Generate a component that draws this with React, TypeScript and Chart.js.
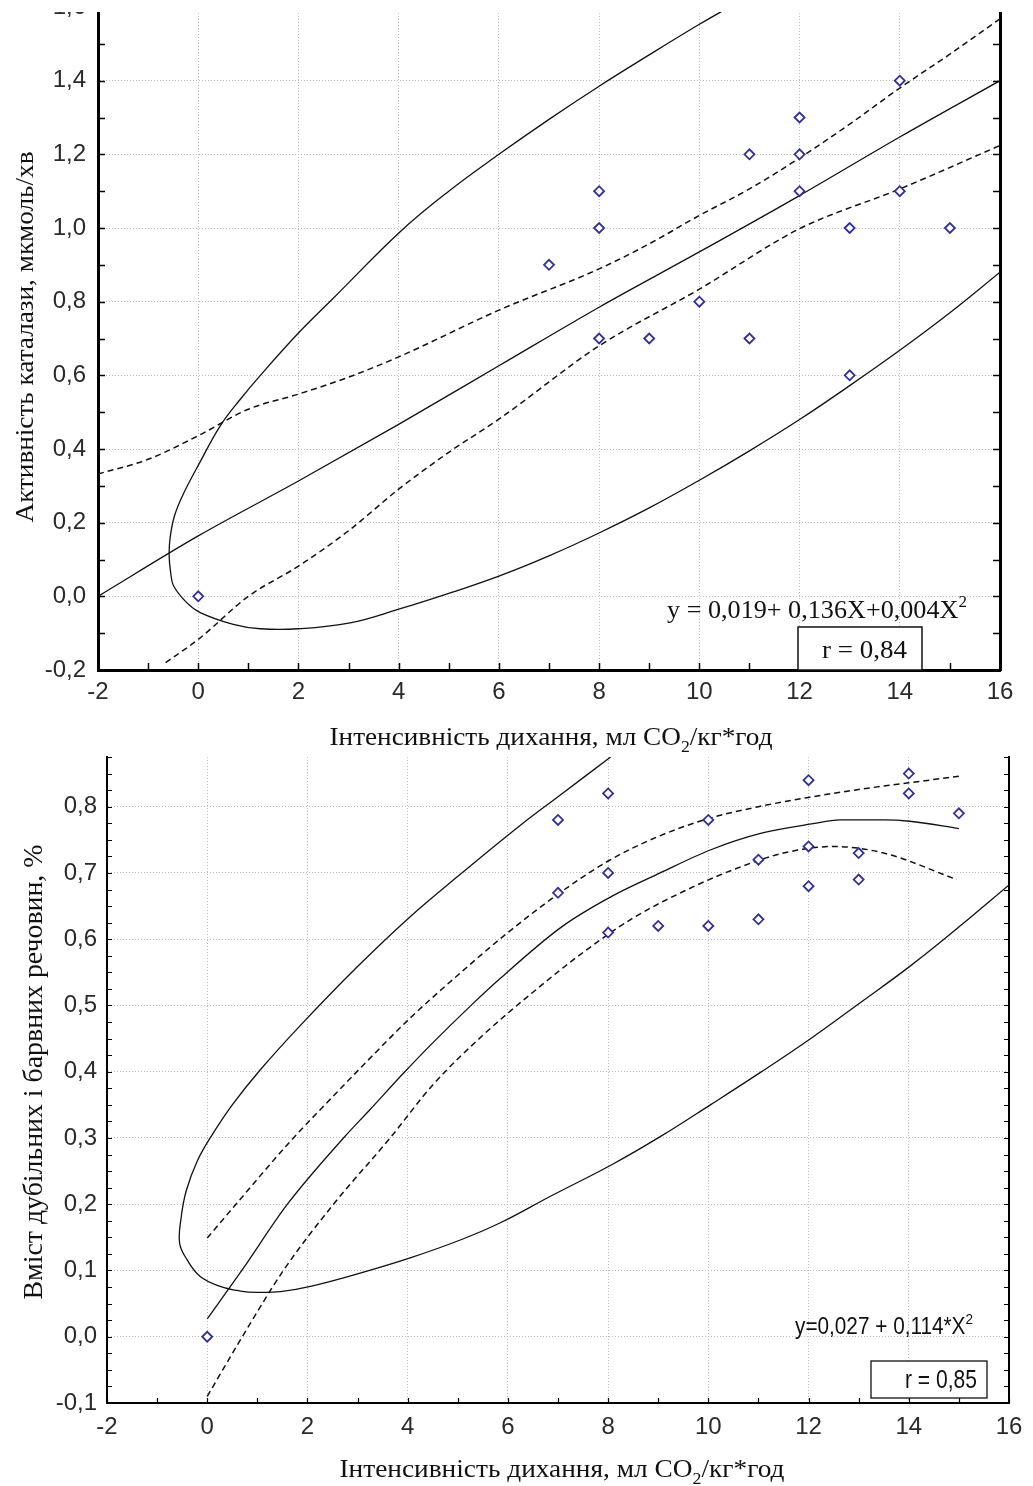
import React, { useEffect, useRef } from "react";
import { Chart, registerables } from "chart.js";

Chart.register(...registerables);

// ---------------- Chart 1: catalase activity ----------------
const c1PointsX = [0, 7, 8, 8, 8, 9, 10, 11, 11, 12, 12, 12, 13, 13, 14, 14, 15];
const c1PointsY = [0.0, 0.9, 1.1, 1.0, 0.7, 0.7, 0.8, 1.2, 0.7, 1.3, 1.2, 1.1, 1.0, 0.6, 1.4, 1.1, 1.0];
const c1FitX = [-2, 0, 2, 4, 6, 8, 10, 12, 14, 16];
const c1FitY = [0.0, 0.164, 0.313, 0.467, 0.626, 0.785, 0.935, 1.088, 1.247, 1.4];
const c1UpperX = [-2, -1, 0, 1, 2, 3, 4, 6, 8, 9, 10, 11, 12, 13, 14, 15, 16];
const c1UpperY = [0.332, 0.372, 0.436, 0.508, 0.549, 0.595, 0.65, 0.777, 0.889, 0.957, 1.034, 1.106, 1.19, 1.282, 1.38, 1.472, 1.568];
const c1LowerX = [-0.65, 0, 1, 2, 3, 4, 5, 6, 8, 10, 12, 14, 16];
const c1LowerY = [-0.18, -0.117, 0.0, 0.082, 0.178, 0.291, 0.391, 0.481, 0.68, 0.834, 0.998, 1.106, 1.224];
const c1BandX = [10.6, 10, 9, 8, 7, 6, 5, 4.03, 2.7, 2.0, 1.24, 0.84, 0.44, 0.03, -0.29, -0.47, -0.56, -0.58, -0.55, -0.49, -0.23, 0.04, 0.7, 1.24, 2.0, 3.03, 4, 5, 6, 7, 8, 9, 10, 11, 12, 13, 14, 15, 16];
const c1BandY = [1.6, 1.553, 1.47, 1.385, 1.295, 1.2, 1.1, 0.99, 0.81, 0.715, 0.6, 0.535, 0.463, 0.363, 0.28, 0.22, 0.16, 0.11, 0.065, 0.028, -0.017, -0.044, -0.076, -0.088, -0.088, -0.072, -0.035, 0.008, 0.055, 0.11, 0.172, 0.24, 0.315, 0.395, 0.48, 0.572, 0.668, 0.77, 0.88];

// ---------------- Chart 2: tannins & colouring substances ----------------
const c2PointsX = [0, 7, 7, 8, 8, 8, 9, 10, 10, 11, 11, 12, 12, 12, 13, 13, 14, 14, 15];
const c2PointsY = [0.0, 0.78, 0.67, 0.82, 0.7, 0.61, 0.62, 0.78, 0.62, 0.72, 0.63, 0.84, 0.74, 0.68, 0.73, 0.69, 0.85, 0.82, 0.79];
const c2FitX = [0, 0.69, 1.6, 2.72, 3.25, 3.92, 4.52, 5.25, 5.85, 7.08, 8.08, 9.04, 10.05, 11.06, 12.06, 12.63, 13.5, 14.02, 15];
const c2FitY = [0.027, 0.1, 0.2, 0.3, 0.343, 0.398, 0.445, 0.499, 0.541, 0.619, 0.665, 0.7, 0.735, 0.76, 0.774, 0.78, 0.78, 0.778, 0.767];
const c2UpperX = [0, 0.63, 1.66, 2.5, 3.05, 4.05, 5.05, 6, 7, 8, 9, 10, 11, 12, 13, 14, 15];
const c2UpperY = [0.149, 0.205, 0.295, 0.362, 0.405, 0.481, 0.549, 0.61, 0.668, 0.718, 0.755, 0.782, 0.8, 0.814, 0.826, 0.836, 0.846];
const c2LowerX = [0, 0.7, 1.52, 2.52, 3.65, 4.5, 5.5, 6.5, 7.5, 8.5, 9.5, 10.5, 11.5, 12.5, 13.5, 14.96];
const c2LowerY = [-0.09, 0.0, 0.1, 0.2, 0.3, 0.38, 0.455, 0.52, 0.58, 0.632, 0.672, 0.705, 0.73, 0.74, 0.73, 0.69];
const c2BandX = [8.05, 7, 6.25, 5.05, 4.05, 2.99, 1.86, 1.06, 0.5, 0.1, -0.2, -0.42, -0.52, -0.55, -0.4, -0.14, 0.26, 0.66, 1.0, 1.46, 2.06, 3.05, 4.05, 5.05, 5.85, 6.85, 8.08, 9.04, 10.04, 11.04, 12.06, 13.01, 14.02, 15.01, 16];
const c2BandY = [0.875, 0.815, 0.772, 0.698, 0.634, 0.558, 0.47, 0.403, 0.35, 0.305, 0.265, 0.22, 0.18, 0.141, 0.116, 0.091, 0.076, 0.069, 0.067, 0.068, 0.076, 0.096, 0.119, 0.146, 0.172, 0.212, 0.26, 0.302, 0.35, 0.399, 0.451, 0.503, 0.559, 0.619, 0.682];

// ---------------- Texts ----------------
const xTitle = "Інтенсивність дихання, мл CO";
const xTitleSub = "2";
const xTitleEnd = "/кг*год";
const c1YTitle = "Активність каталази, мкмоль/хв";
const c2YTitle = "Вміст дубільних і барвних речовин, %";
const c1Equation = "y = 0,019+ 0,136X+0,004X";
const c1R = "r = 0,84";
const c2Equation = "y=0,027 + 0,114*X";
const c2R = "r = 0,85";

const SERIF = "'Liberation Serif', 'Times New Roman', serif";
const SANS = "'Liberation Sans', Arial, sans-serif";
const MARKER = "#30309a";

const zip = (xs: number[], ys: number[]) => xs.map((x, i) => ({ x, y: ys[i] }));

type Part = { t: string; sub?: boolean; sup?: boolean };
type RichText = {
  parts: Part[];
  family: string;
  size: number;
  x: number;
  y: number;
  align: "left" | "center" | "right";
  width?: number;
  rotate?: number;
  color?: string;
};

function drawRich(ctx: CanvasRenderingContext2D, t: RichText) {
  const fontFor = (p: Part) => `${p.sub || p.sup ? Math.round(t.size * 0.66) : t.size}px ${t.family}`;
  ctx.save();
  ctx.translate(t.x, t.y);
  if (t.rotate) ctx.rotate(t.rotate);
  let nat = 0;
  for (const p of t.parts) {
    ctx.font = fontFor(p);
    nat += ctx.measureText(p.t).width;
  }
  const sx = t.width ? t.width / nat : 1;
  const total = nat * sx;
  const start = t.align === "center" ? -total / 2 : t.align === "right" ? -total : 0;
  ctx.translate(start, 0);
  ctx.scale(sx, 1);
  ctx.textAlign = "left";
  ctx.textBaseline = "alphabetic";
  ctx.fillStyle = t.color || "#111";
  let cx = 0;
  for (const p of t.parts) {
    ctx.font = fontFor(p);
    const dy = p.sub ? t.size * 0.28 : p.sup ? -t.size * 0.42 : 0;
    ctx.fillText(p.t, cx, dy);
    cx += ctx.measureText(p.t).width;
  }
  ctx.restore();
}

const decorPlugin = {
  id: "decor",
  afterDraw(chart: any, _args: any, opts: any) {
    const ctx: CanvasRenderingContext2D = chart.ctx;
    const xs = chart.scales.x;
    const ys = chart.scales.y;
    const area = chart.chartArea;
    ctx.save();
    ctx.strokeStyle = "#000";
    ctx.lineWidth = opts.tickWidth;
    const nx = Math.round((xs.max - xs.min) / opts.xMinor);
    for (let i = 0; i <= nx; i++) {
      const px = Math.round(xs.getPixelForValue(xs.min + i * opts.xMinor)) + 0.5;
      ctx.beginPath();
      ctx.moveTo(px, area.bottom);
      ctx.lineTo(px, area.bottom - opts.tickLen);
      ctx.stroke();
    }
    const ny = Math.round((ys.max - ys.min) / opts.yMinor);
    for (let i = 0; i <= ny; i++) {
      const py = Math.round(ys.getPixelForValue(ys.min + i * opts.yMinor)) + 0.5;
      ctx.beginPath();
      ctx.moveTo(area.left, py);
      ctx.lineTo(area.left + opts.tickLen, py);
      ctx.moveTo(area.right, py);
      ctx.lineTo(area.right - opts.tickLen, py);
      ctx.stroke();
    }
    for (const b of opts.boxes || []) {
      ctx.fillStyle = "#fff";
      ctx.fillRect(b.x1, b.y1, b.x2 - b.x1, b.y2 - b.y1);
      ctx.lineWidth = b.lw;
      ctx.strokeStyle = "#111";
      ctx.strokeRect(b.x1, b.y1, b.x2 - b.x1, b.y2 - b.y1);
    }
    ctx.restore();
    for (const t of opts.texts || []) drawRich(ctx, t);
  },
};

type Cfg = {
  points: { x: number; y: number }[];
  fit: { x: number; y: number }[];
  upper: { x: number; y: number }[];
  lower: { x: number; y: number }[];
  band: { x: number; y: number }[];
  yMin: number;
  yMax: number;
  yStep: number;
  leftW: number;
  rightW: number;
  bottomH: number;
  topPad: number;
  axisW: number;
  yPad: number;
  xPad: number;
  decor: any;
};

function buildConfig(c: Cfg): any {
  const lineDs = (data: any[], dashed: boolean, monotone: boolean) => ({
    data,
    showLine: true,
    pointRadius: 0,
    borderColor: "#111",
    borderWidth: dashed ? 1.5 : 1.3,
    borderDash: dashed ? [6, 4] : [],
    tension: monotone ? 0 : 0.4,
    cubicInterpolationMode: monotone ? "monotone" : "default",
    fill: false,
  });
  const tickFont = { family: SANS, size: 24 };
  const fmt = (v: any) => Number(v).toFixed(1).replace(".", ",");
  return {
    type: "scatter",
    data: {
      datasets: [
        {
          data: c.points,
          showLine: false,
          pointStyle: "rectRot",
          pointRadius: 5,
          borderWidth: 1.8,
          borderColor: MARKER,
          backgroundColor: "#fff",
        },
        lineDs(c.fit, false, true),
        lineDs(c.upper, true, true),
        lineDs(c.lower, true, true),
        lineDs(c.band, false, false),
      ],
    },
    options: {
      responsive: false,
      animation: false,
      events: [],
      layout: { autoPadding: false, padding: { top: c.topPad, left: 0, right: 0, bottom: 0 } },
      plugins: { legend: { display: false }, tooltip: { enabled: false }, decor: c.decor },
      scales: {
        x: {
          type: "linear",
          position: "bottom",
          min: -2,
          max: 16,
          ticks: { stepSize: 2, font: tickFont, color: "#2a2a2a", padding: c.xPad, maxRotation: 0, callback: (v: any) => String(v) },
          grid: { color: "#bcbcbc", lineWidth: 1, drawTicks: false },
          border: { display: true, color: "#000", width: c.axisW, dash: [1, 2] },
          afterFit: (s: any) => {
            s.height = c.bottomH;
            s.paddingLeft = 0;
            s.paddingRight = 0;
          },
        },
        y: {
          type: "linear",
          position: "left",
          min: c.yMin,
          max: c.yMax,
          ticks: { stepSize: c.yStep, font: tickFont, color: "#2a2a2a", padding: c.yPad, includeBounds: false, callback: fmt },
          grid: { color: "#bcbcbc", lineWidth: 1, drawTicks: false },
          border: { display: true, color: "#000", width: c.axisW, dash: [1, 2] },
          afterFit: (s: any) => {
            s.width = c.leftW;
            s.paddingTop = 0;
            s.paddingBottom = 0;
          },
        },
        y2: {
          type: "linear",
          position: "right",
          min: c.yMin,
          max: c.yMax,
          ticks: { display: false, stepSize: c.yStep },
          grid: { drawOnChartArea: false, drawTicks: false },
          border: { display: true, color: "#000", width: c.axisW },
          afterFit: (s: any) => {
            s.width = c.rightW;
            s.paddingTop = 0;
            s.paddingBottom = 0;
          },
        },
      },
    },
    plugins: [decorPlugin],
  };
}

export default function App() {
  const ref1 = useRef<HTMLCanvasElement | null>(null);
  const ref2 = useRef<HTMLCanvasElement | null>(null);

  useEffect(() => {
    const cfg1 = buildConfig({
      points: zip(c1PointsX, c1PointsY),
      fit: zip(c1FitX, c1FitY),
      upper: zip(c1UpperX, c1UpperY),
      lower: zip(c1LowerX, c1LowerY),
      band: zip(c1BandX, c1BandY),
      yMin: -0.2,
      yMax: 1.6,
      yStep: 0.2,
      leftW: 98,
      rightW: 33,
      bottomH: 90,
      topPad: 7,
      axisW: 3,
      yPad: 12,
      xPad: 8,
      decor: {
        xMinor: 1,
        yMinor: 0.1,
        tickLen: 7,
        tickWidth: 1.5,
        boxes: [{ x1: 798, y1: 627, x2: 922, y2: 670, lw: 1.5 }],
        texts: [
          { parts: [{ t: xTitle }, { t: xTitleSub, sub: true }, { t: xTitleEnd }], family: SERIF, size: 26, x: 551, y: 745, align: "center", width: 443 },
          { parts: [{ t: c1YTitle }], family: SERIF, size: 26, x: 33, y: 337, align: "center", width: 371, rotate: -Math.PI / 2 },
          { parts: [{ t: c1Equation }, { t: "2", sup: true }], family: SERIF, size: 26, x: 667, y: 618, align: "left", width: 300 },
          { parts: [{ t: c1R }], family: SERIF, size: 26, x: 822, y: 658, align: "left", width: 85 },
        ],
      },
    });
    const cfg2 = buildConfig({
      points: zip(c2PointsX, c2PointsY),
      fit: zip(c2FitX, c2FitY),
      upper: zip(c2UpperX, c2UpperY),
      lower: zip(c2LowerX, c2LowerY),
      band: zip(c2BandX, c2BandY),
      yMin: -0.1,
      yMax: 0.875,
      yStep: 0.1,
      leftW: 107,
      rightW: 24,
      bottomH: 83,
      topPad: 17,
      axisW: 2,
      yPad: 10,
      xPad: 10,
      decor: {
        xMinor: 1,
        yMinor: 0.025,
        tickLen: 5,
        tickWidth: 1.2,
        boxes: [{ x1: 871, y1: 621, x2: 987, y2: 658, lw: 1.3 }],
        texts: [
          { parts: [{ t: xTitle }, { t: xTitleSub, sub: true }, { t: xTitleEnd }], family: SERIF, size: 26, x: 562, y: 737, align: "center", width: 445 },
          { parts: [{ t: c2YTitle }], family: SERIF, size: 27, x: 42, y: 332, align: "center", width: 455, rotate: -Math.PI / 2 },
          { parts: [{ t: c2Equation }, { t: "2", sup: true }], family: SANS, size: 23, x: 795, y: 594, align: "left", width: 178 },
          { parts: [{ t: c2R }], family: SANS, size: 25, x: 977, y: 648, align: "right", width: 72 },
        ],
      },
    });
    const ch1 = new Chart(ref1.current as HTMLCanvasElement, cfg1);
    const ch2 = new Chart(ref2.current as HTMLCanvasElement, cfg2);
    return () => {
      ch1.destroy();
      ch2.destroy();
    };
  }, []);

  return (
    <div style={{ position: "absolute", left: 0, top: 0, width: 1033, height: 1486, background: "#fff", overflow: "hidden" }}>
      <div style={{ position: "absolute", left: 0, top: 12, width: 1033, height: 748, overflow: "hidden" }}>
        <canvas ref={ref1} width={1033} height={760} style={{ position: "absolute", left: 0, top: -12, width: 1033, height: 760, display: "block" }} />
      </div>
      <canvas ref={ref2} width={1033} height={746} style={{ position: "absolute", left: 0, top: 740, width: 1033, height: 746, display: "block" }} />
    </div>
  );
}
